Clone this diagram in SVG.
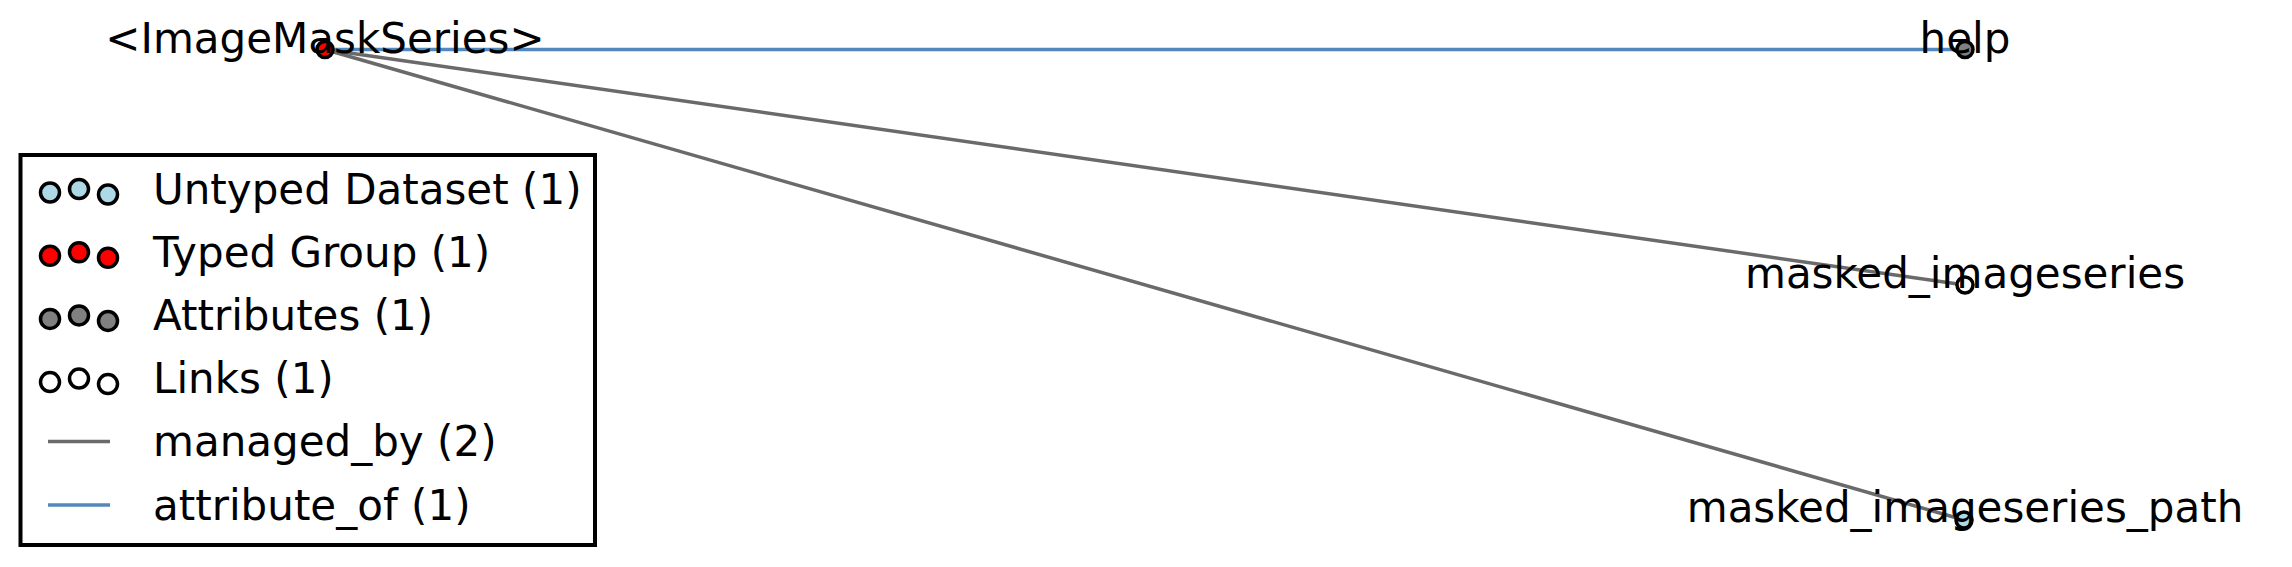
<svg xmlns="http://www.w3.org/2000/svg" width="2292" height="567" viewBox="0 0 2292 567">
<style>
text{font-family:"DejaVu Sans","Liberation Sans",sans-serif;font-size:42px;fill:#000}
.lbl{text-anchor:middle}
.node{stroke:#000;stroke-width:3.5}
.lg{stroke:#000;stroke-width:3.5}
.mb{stroke:#6a6a6a;stroke-width:3.5;fill:none}
.ao{stroke:#5288bd;stroke-width:3.5;fill:none}
.typed{fill:#ff0000}
.untyped{fill:#add8e6}
.attr{fill:#808080}
.link{fill:#ffffff}
</style>
<rect width="2292" height="567" fill="#fff"/>
<g id="connectors">
<line class="ao" x1="325" y1="49.5" x2="1965" y2="49.5"/>
<line class="mb" x1="325" y1="49.5" x2="1965" y2="285"/>
<line class="mb" x1="325" y1="49.5" x2="1964" y2="520"/>
</g>
<g id="node-ImageMaskSeries">
<circle class="node typed" cx="325" cy="49.5" r="8"/>
<text class="lbl" x="325" y="53">&lt;ImageMaskSeries&gt;</text>
</g>
<g id="node-help">
<circle class="node attr" cx="1965" cy="49.5" r="8"/>
<text class="lbl" x="1965" y="53">help</text>
</g>
<g id="node-masked_imageseries">
<circle class="node link" cx="1965" cy="285" r="8"/>
<text class="lbl" x="1965" y="288">masked_imageseries</text>
</g>
<g id="node-masked_imageseries_path">
<circle class="node untyped" cx="1964" cy="520" r="8"/>
<text class="lbl" x="1965" y="522">masked_imageseries_path</text>
</g>
<g id="legend">
<rect x="20.5" y="155" width="574.5" height="390" fill="#fff" stroke="#000" stroke-width="4"/>
<circle class="lg untyped" cx="50" cy="192.5" r="9.5"/>
<circle class="lg untyped" cx="79" cy="189" r="9.5"/>
<circle class="lg untyped" cx="108" cy="194.5" r="9.5"/>
<text x="153" y="203.5">Untyped Dataset (1)</text>
<circle class="lg typed" cx="50" cy="255.7" r="9.5"/>
<circle class="lg typed" cx="79" cy="252.2" r="9.5"/>
<circle class="lg typed" cx="108" cy="257.7" r="9.5"/>
<text x="153" y="266.7">Typed Group (1)</text>
<circle class="lg attr" cx="50" cy="318.9" r="9.5"/>
<circle class="lg attr" cx="79" cy="315.4" r="9.5"/>
<circle class="lg attr" cx="108" cy="320.9" r="9.5"/>
<text x="153" y="329.9">Attributes (1)</text>
<circle class="lg link" cx="50" cy="382.1" r="9.5"/>
<circle class="lg link" cx="79" cy="378.6" r="9.5"/>
<circle class="lg link" cx="108" cy="384.1" r="9.5"/>
<text x="153" y="393.1">Links (1)</text>
<line class="mb" x1="48" y1="441.5" x2="110" y2="441.5"/>
<text x="153" y="456.3">managed_by (2)</text>
<line class="ao" x1="48" y1="505" x2="110" y2="505"/>
<text x="153" y="519.5">attribute_of (1)</text>
</g>
</svg>
